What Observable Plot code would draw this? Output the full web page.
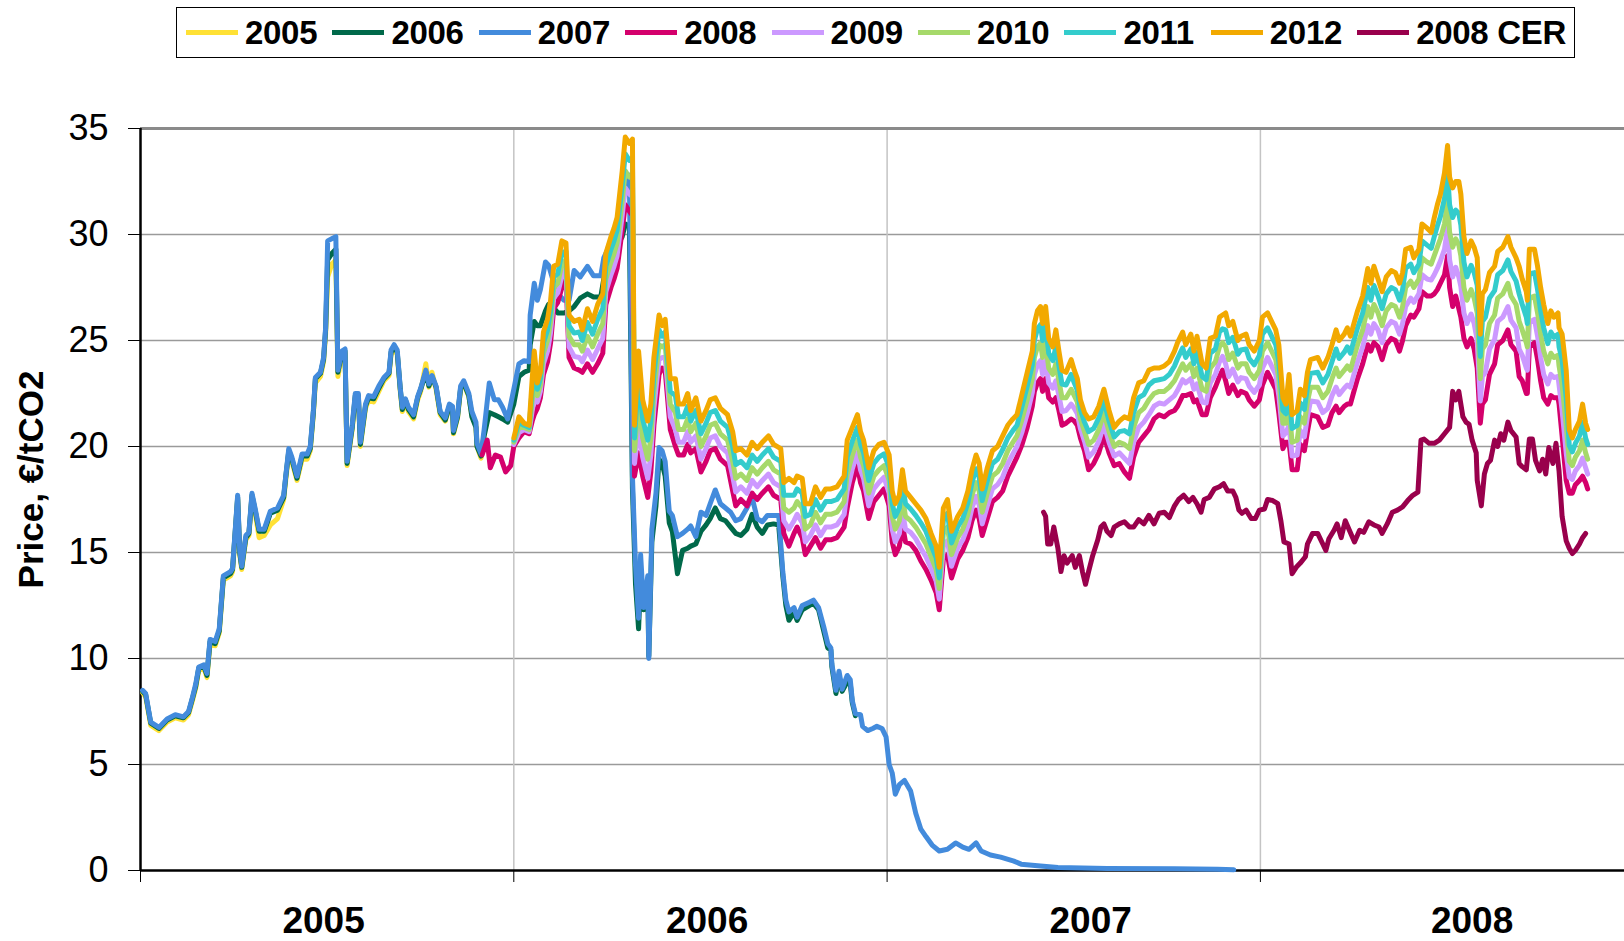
<!DOCTYPE html>
<html>
<head>
<meta charset="utf-8">
<script src="https://cdn.jsdelivr.net/npm/d3@7"></script>
<script src="https://cdn.jsdelivr.net/npm/@observablehq/plot@0.6"></script>
<style>
html, body { margin: 0; padding: 0; background: #fff; overflow: hidden; }
#wrap { position: relative; width: 1624px; height: 941px; font-family: Arial, "Liberation Sans", Helvetica, sans-serif; }
#legend { position: absolute; left: 176px; top: 7px; width: 1399px; height: 51px; border: 1.5px solid #000; box-sizing: border-box; background: #fff; }
.item { position: absolute; top: 0; height: 100%; display: flex; align-items: center; }
.sw { width: 52px; height: 5px; margin-right: 7px; }
.lab { font-weight: bold; font-size: 33px; letter-spacing: -0.3px; color: #000; }
#chart { position: absolute; left: 0; top: 70px; }
</style>
</head>
<body>
<div id="wrap">
  <div id="legend"></div>
  <div id="chart"></div>
</div>
<script>
// Dates are stored as days since 1 January 2005.
const phase1Day = [2,5,10,18,26,34,42,47,51,54,57,62,65,68,73,77,81,88,90,95,97,99,103,106,109,112,116,121,127,134,140,142,145,148,153,158,163,166,169,171,176,179,181,183,187,191,193,197,200,202,207,210,213,215,220,223,228,233,238,243,245,248,251,254,256,259,262,267,271,274,279,282,285,289,293,298,302,305,306,310,313,316,321,324,328,329,333,336,341,346,350,354,359,365,370,375,380,381,385,388,391,396,399,403,408,414,419,424,430,437,443,450,453,456,461,466,471,474,478,481,484,487,489,492,496,497,500,504,507,510,513,517,520,525,530,535,538,543,548,553,557,562,567,572,577,582,587,593,598,603,608,613,619,624,628,631,634,639,642,647,654,658,663,668,672,675,676,680,683,686,691,694,696,699,704,706,711,716,720,725,729,732,735,738,742,747,753,758,763,768,774,781,789,797,804,810,817,822,831,841,854,861,880,897,945,1011,1053,1069];

// Dec-2005 contract (covers the first dates of phase1Day)
const p2005 = [8.4,8.2,6.85,6.6,7.0,7.2,7.1,7.35,8.05,8.6,9.45,9.55,9.1,10.7,10.6,11.2,13.7,13.9,14.1,17.5,14.9,14.2,15.6,15.8,17.6,16.9,15.7,15.8,16.3,16.6,17.5,18.4,19.7,19.3,18.4,19.4,19.4,19.8,21.5,23.0,23.3,24.0,25.3,28.0,28.6,28.8,23.3,24.3,24.4,19.1,20.8,22.3,22.3,20.0,21.8,22.2,22.1,22.6,23.1,23.35,24.35,24.6,24.35,22.6,21.65,22.1,21.65,21.3,22.2,22.6,23.9,22.8,23.5,22.7,21.5,21.2,21.85,21.75,20.6,21.35,22.7,22.95,22.35,21.5,21.0,20.0,19.45,20.6];

// Dec-2006 contract (covers the first dates of phase1Day)
const p2006 = [8.45,8.3,6.95,6.7,7.1,7.3,7.2,7.45,8.15,8.7,9.55,9.65,9.2,10.8,10.7,11.3,13.8,14.0,14.2,17.6,15.0,14.3,15.7,15.9,17.7,17.0,16.0,16.0,16.85,17.0,17.6,18.55,19.8,19.4,18.5,19.55,19.55,19.9,21.6,23.2,23.45,24.1,25.5,28.8,29.1,29.3,23.5,24.45,24.5,19.2,20.9,22.4,22.4,20.1,21.9,22.3,22.25,22.75,23.2,23.45,24.45,24.7,24.45,22.7,21.75,22.2,21.75,21.4,22.3,22.7,23.5,22.85,23.3,22.8,21.6,21.25,21.9,21.85,20.65,21.4,22.75,23.0,22.4,21.4,20.9,20.0,19.55,20.5,21.6,21.5,21.4,21.3,21.15,22.0,23.3,23.5,23.6,24.8,25.9,25.7,25.7,26.4,26.7,26.6,26.3,26.3,26.4,26.6,27.0,27.2,27.05,27.05,27.9,28.4,29.3,29.5,29.9,30.5,30.4,18.0,13.5,11.4,13.8,12.3,13.3,10.1,15.5,17.2,19.4,19.2,18.6,16.4,16.0,14.0,15.1,15.2,15.3,15.4,16.0,16.3,16.6,17.1,16.6,16.5,16.2,15.9,15.8,16.1,16.8,16.2,15.9,16.3,16.35,16.3,13.9,12.5,11.8,12.2,11.8,12.3,12.5,12.6,12.3,11.3,10.5,10.4,9.6,8.35,9.2,8.45,8.9,8.8,7.9,7.3];

// Dec-2007 contract (all dates of phase1Day)
const p2007 = [8.5,8.35,7.0,6.75,7.15,7.35,7.25,7.5,8.2,8.8,9.6,9.7,9.3,10.9,10.8,11.4,13.9,14.1,14.25,17.7,15.1,14.35,15.8,15.95,17.8,17.1,16.1,16.1,16.95,17.1,17.7,18.6,19.9,19.5,18.6,19.65,19.65,20.0,21.7,23.25,23.5,24.2,25.6,29.7,29.8,29.9,23.6,24.5,24.6,19.3,21.0,22.5,22.5,20.2,22.0,22.4,22.35,22.85,23.25,23.5,24.55,24.8,24.55,22.75,21.85,22.25,21.85,21.5,22.35,22.75,23.6,22.95,23.35,22.85,21.65,21.35,22.0,21.9,20.75,21.5,22.85,23.1,22.5,21.65,21.15,20.15,19.65,20.8,23.0,22.2,22.2,21.85,21.3,22.7,23.9,24.05,24.0,26.2,27.7,26.9,27.4,28.7,28.55,27.9,27.2,26.9,26.9,28.3,28.0,28.5,28.05,28.05,28.9,29.2,29.9,30.4,31.3,32.4,32.8,18.6,14.4,11.9,14.9,12.4,13.9,10.0,16.1,17.8,19.95,19.8,19.3,16.95,16.75,15.75,15.9,16.1,16.25,15.75,16.9,16.75,17.3,17.95,17.3,17.1,16.9,16.5,16.6,17.1,17.6,16.6,16.45,16.75,16.75,16.75,14.1,12.75,12.2,12.4,11.95,12.5,12.65,12.75,12.4,11.5,10.7,10.5,9.75,8.5,9.4,8.55,9.2,9.0,8.0,7.4,7.35,6.8,6.6,6.7,6.8,6.7,6.3,5.0,4.6,3.6,4.05,4.25,3.75,2.7,1.95,1.6,1.2,0.92,1.0,1.3,1.1,1.0,1.3,0.92,0.73,0.63,0.44,0.3,0.21,0.14,0.1,0.08,0.06,0.03];

const phase2Day = [334,339,342,347,352,357,362,365,370,375,380,383,385,388,391,394,398,401,404,408,412,416,419,424,429,432,437,442,447,452,455,460,463,466,471,474,478,481,483,487,491,496,499,502,507,510,513,518,523,526,531,535,538,543,548,553,557,562,567,574,579,582,587,593,598,603,608,614,619,626,629,634,639,642,647,650,655,660,665,670,675,681,688,691,696,701,704,707,712,717,722,727,732,735,738,742,745,748,753,758,763,768,773,778,781,785,789,793,799,804,809,813,817,820,823,828,833,838,843,848,853,857,862,867,872,874,877,880,882,885,888,892,895,898,901,905,910,913,916,919,923,927,932,937,942,947,952,957,962,967,971,976,981,986,991,996,1001,1006,1011,1014,1019,1022,1027,1030,1033,1038,1042,1046,1051,1055,1058,1061,1064,1068,1073,1076,1081,1084,1089,1094,1097,1102,1107,1110,1113,1117,1120,1123,1126,1131,1134,1138,1141,1144,1151,1156,1161,1165,1169,1172,1177,1180,1183,1187,1190,1195,1200,1203,1206,1210,1214,1218,1223,1227,1231,1234,1237,1242,1245,1250,1253,1258,1262,1265,1268,1271,1275,1278,1280,1283,1286,1289,1291,1294,1297,1301,1304,1307,1310,1312,1315,1319,1324,1327,1332,1337,1340,1345,1348,1351,1355,1356,1358,1363,1366,1369,1372,1376,1379,1382,1386,1387,1390,1394,1397,1400,1403,1407,1410,1413,1415];

// Dec-2008 contract (all dates of phase2Day)
const p2008 = [19.6,20.3,19.0,19.6,19.5,18.8,19.1,
20.0,20.4,20.7,20.6,21.2,21.5,21.8,22.3,23.4,24.0,24.9,26.5,26.8,27.5,28.0,24.2,23.7,23.6,23.5,23.9,23.5,23.9,24.4,26.7,27.5,27.9,28.4,30.2,31.4,31.1,30.9,18.6,19.7,18.6,17.6,18.8,21.0,23.4,23.7,23.6,20.8,20.0,19.6,19.6,20.1,19.7,19.9,18.8,19.3,19.8,19.9,19.4,19.1,17.9,17.2,17.5,17.2,17.8,17.5,17.8,18.1,17.7,17.5,15.9,15.3,15.9,16.2,15.7,14.9,15.3,15.7,15.2,15.6,15.6,15.7,16.2,17.1,18.3,19.1,18.3,17.9,16.6,17.4,17.7,18.0,17.2,15.5,14.9,15.3,16.3,15.5,15.4,15.1,14.6,14.2,13.7,13.1,12.3,14.7,14.9,13.8,14.7,15.1,15.7,16.5,17.0,16.6,15.8,16.6,17.4,17.6,17.9,18.6,19.1,19.5,20.1,20.9,21.9,22.6,23.0,23.2,22.6,23.2,22.3,22.1,22.3,21.7,21.0,21.1,21.3,21.2,21.0,20.4,19.8,18.9,19.2,19.7,20.5,19.7,19.1,19.2,18.8,18.5,19.5,20.2,20.5,20.8,21.3,21.5,21.4,21.6,21.7,21.9,22.4,22.4,22.5,22.1,22.2,21.5,21.5,22.3,22.8,23.3,23.6,23.1,22.5,22.9,22.4,22.6,22.5,22.2,21.9,22.2,22.9,23.5,23.0,22.7,21.6,19.9,20.2,20.2,18.9,18.9,20.1,19.8,20.7,21.5,21.4,20.9,21.0,21.6,21.9,21.6,21.9,22.0,22.0,22.7,23.2,23.9,24.8,24.5,24.9,24.7,24.1,24.8,25.1,25.0,24.5,25.0,25.7,26.2,26.1,26.5,27.3,27.1,27.1,27.2,27.4,27.7,28.1,29.0,27.5,26.6,27.1,26.5,26.1,25.1,24.7,25.1,24.6,23.7,21.1,22.0,22.2,23.4,23.9,24.8,25.0,25.5,24.8,24.5,23.3,23.1,22.5,22.5,24.7,24.9,24.1,23.1,22.3,22.0,22.4,22.3,22.3,22.0,20.5,18.4,17.8,17.8,18.2,18.4,18.6,18.3,18.0];

// Dec-2009 .. Dec-2012 contracts (cover the last dates of phase2Day)
const p2009 = [20.1,20.65,20.8,20.7,21.7,22.25,22.1,22.6,23.9,24.5,25.4,27.0,27.25,28.05,28.4,24.7,24.25,24.2,24.0,24.55,24.1,24.6,25.1,27.3,28.1,28.5,29.0,30.9,32.2,31.9,31.8,19.2,20.9,19.5,18.5,19.6,21.8,24.1,24.2,24.2,21.4,20.8,20.2,20.2,20.7,20.2,20.5,19.4,19.9,20.4,20.5,20.0,19.7,18.6,17.85,18.1,17.8,18.4,18.1,18.4,18.7,18.3,18.1,16.5,16.1,16.5,16.8,16.4,15.5,15.8,16.3,15.8,16.2,16.2,16.3,16.8,17.9,18.95,19.7,18.9,18.5,17.2,18.0,18.3,18.55,17.8,16.1,15.5,15.9,16.95,16.1,15.95,15.65,15.2,14.8,14.25,13.65,12.8,15.3,15.55,14.35,15.2,15.6,16.25,17.1,17.65,17.25,16.35,17.2,18.0,18.2,18.55,19.2,19.65,20.0,20.7,21.55,22.55,23.4,23.85,24.05,23.4,24.05,23.0,22.75,23.1,22.4,21.65,21.7,22.0,21.8,21.55,20.85,20.25,19.5,19.75,20.25,21.05,20.2,19.55,19.7,19.45,19.2,20.2,20.9,21.15,21.5,21.9,22.05,22.0,22.2,22.4,22.65,23.15,23.0,23.2,22.7,22.95,22.1,22.05,23.0,23.4,24.0,24.25,23.9,23.3,23.65,23.05,23.25,23.2,22.85,22.55,22.9,23.7,24.2,23.7,23.4,22.4,20.5,20.65,21.0,19.55,19.6,20.75,20.45,21.4,22.15,22.1,21.6,21.8,22.4,22.8,22.45,22.75,22.9,22.8,23.5,24.0,24.7,25.7,25.3,25.8,25.5,24.9,25.6,25.9,25.8,25.3,25.8,26.6,27.0,26.8,27.2,28.1,27.9,27.85,28.1,28.4,28.75,29.3,30.3,28.8,28.0,28.45,28.0,27.55,26.3,25.8,26.25,25.8,25.0,22.15,23.3,23.5,24.6,25.05,25.9,26.1,26.6,25.95,25.6,24.6,24.3,23.7,23.6,25.85,26.0,25.2,24.2,23.4,22.95,23.4,23.25,23.3,22.9,21.7,19.7,18.55,18.45,18.85,19.1,19.45,19.0,18.7];

const p2010 = [20.2,20.9,20.9,20.8,22.2,23.0,22.4,22.9,24.4,25.0,25.9,27.5,27.7,28.6,28.8,25.2,24.8,24.8,24.5,25.2,24.7,25.3,25.8,27.9,28.7,29.1,29.6,31.6,33.0,32.7,32.7,19.8,22.1,20.4,19.4,20.4,22.6,24.8,24.7,24.8,22.0,21.6,20.8,20.8,21.3,20.7,21.1,20.0,20.5,21.0,21.1,20.6,20.3,19.3,18.5,18.7,18.4,19.0,18.7,19.0,19.3,18.9,18.7,17.1,16.9,17.1,17.4,17.1,16.1,16.3,16.9,16.4,16.8,16.8,16.9,17.4,18.7,19.6,20.3,19.5,19.1,17.8,18.6,18.9,19.1,18.4,16.7,16.1,16.5,17.6,16.7,16.5,16.2,15.8,15.4,14.8,14.2,13.3,15.9,16.2,14.9,15.7,16.1,16.8,17.7,18.3,17.9,16.9,17.8,18.6,18.8,19.2,19.8,20.2,20.5,21.3,22.2,23.2,24.2,24.7,24.9,24.2,24.9,23.7,23.4,23.9,23.1,22.3,22.3,22.7,22.4,22.1,21.3,20.7,20.1,20.3,20.8,21.6,20.7,20.0,20.2,20.1,19.9,20.9,21.6,21.8,22.2,22.5,22.6,22.6,22.8,23.1,23.4,23.9,23.6,23.9,23.3,23.7,22.7,22.6,23.7,24.0,24.7,24.9,24.7,24.1,24.4,23.7,23.9,23.9,23.5,23.2,23.6,24.5,24.9,24.4,24.1,23.2,21.1,21.1,21.8,20.2,20.3,21.4,21.1,22.1,22.8,22.8,22.3,22.6,23.2,23.7,23.3,23.6,23.8,23.6,24.3,24.8,25.5,26.6,26.1,26.7,26.3,25.7,26.4,26.7,26.6,26.1,26.6,27.5,27.8,27.5,27.9,28.9,28.7,28.6,29.0,29.4,29.8,30.5,31.6,30.1,29.4,29.8,29.5,29.0,27.5,26.9,27.4,27.0,26.3,23.2,24.6,24.8,25.8,26.2,27.0,27.2,27.7,27.1,26.7,25.9,25.5,24.9,24.7,27.0,27.1,26.3,25.3,24.5,23.9,24.4,24.2,24.3,23.8,22.9,21.0,19.3,19.1,19.5,19.8,20.3,19.7,19.4];

const p2011 = [20.3,21.15,21.0,20.9,22.7,23.75,22.7,23.2,24.9,25.5,26.4,28.0,28.15,29.15,29.2,25.7,25.35,25.4,25.0,25.85,25.3,26.0,26.5,28.5,29.3,29.7,30.2,32.3,33.8,33.5,33.6,20.4,23.3,21.3,20.3,21.2,23.4,25.5,25.2,25.4,22.6,22.4,21.4,21.4,21.9,21.2,21.7,20.6,21.1,21.6,21.7,21.2,20.9,20.0,19.15,19.3,19.0,19.6,19.3,19.6,19.9,19.5,19.3,17.7,17.7,17.7,18.0,17.8,16.7,16.8,17.5,17.0,17.4,17.4,17.5,18.0,19.5,20.25,20.9,20.1,19.7,18.4,19.2,19.5,19.65,19.0,17.3,16.7,17.1,18.25,17.3,17.05,16.75,16.4,16.0,15.35,14.75,13.8,16.5,16.85,15.45,16.2,16.6,17.35,18.3,18.95,18.55,17.45,18.4,19.2,19.4,19.85,20.4,20.75,21.0,21.9,22.85,23.85,25.0,25.55,25.75,25.0,25.75,24.4,24.05,24.7,23.8,22.95,22.9,23.4,23.0,22.65,21.75,21.15,20.7,20.85,21.35,22.15,21.2,20.45,20.7,20.75,20.6,21.6,22.3,22.45,22.9,23.1,23.15,23.2,23.4,23.8,24.15,24.65,24.2,24.6,23.9,24.45,23.3,23.15,24.4,24.6,25.4,25.55,25.5,24.9,25.15,24.35,24.55,24.6,24.15,23.85,24.3,25.3,25.6,25.1,24.8,24.0,21.7,21.55,22.6,20.85,21.0,22.05,21.75,22.8,23.45,23.5,23.0,23.4,24.0,24.6,24.15,24.45,24.7,24.4,25.1,25.6,26.3,27.5,26.9,27.6,27.1,26.5,27.2,27.5,27.4,26.9,27.4,28.4,28.6,28.2,28.6,29.7,29.5,29.35,29.9,30.4,30.85,31.7,32.9,31.4,30.8,31.15,31.0,30.45,28.7,28.0,28.55,28.2,27.6,24.25,25.9,26.1,27.0,27.35,28.1,28.3,28.8,28.25,27.8,27.2,26.7,26.1,25.8,28.15,28.2,27.4,26.4,25.6,24.85,25.4,25.15,25.3,24.7,24.1,22.3,20.05,19.75,20.15,20.5,21.15,20.4,20.1];

const p2012 = [20.4,21.4,21.1,21.0,23.2,24.5,23.0,23.5,25.4,26.0,26.9,28.5,28.6,29.7,29.6,26.2,25.9,26.0,25.5,26.5,25.9,26.7,27.2,29.1,29.9,30.3,30.8,33.0,34.6,34.3,34.5,21.0,24.5,22.2,21.2,22.0,24.2,26.2,25.7,26.0,23.2,23.2,22.0,22.0,22.5,21.7,22.3,21.2,21.7,22.2,22.3,21.8,21.5,20.7,19.8,19.9,19.6,20.2,19.9,20.2,20.5,20.1,19.9,18.3,18.5,18.3,18.6,18.5,17.3,17.3,18.1,17.6,18.0,18.0,18.1,18.6,20.3,20.9,21.5,20.7,20.3,19.0,19.8,20.1,20.2,19.6,17.9,17.3,17.7,18.9,17.9,17.6,17.3,17.0,16.6,15.9,15.3,14.3,17.1,17.5,16.0,16.7,17.1,17.9,18.9,19.6,19.2,18.0,19.0,19.8,20.0,20.5,21.0,21.3,21.5,22.5,23.5,24.5,25.8,26.4,26.6,25.8,26.6,25.1,24.7,25.5,24.5,23.6,23.5,24.1,23.6,23.2,22.2,21.6,21.3,21.4,21.9,22.7,21.7,20.9,21.2,21.4,21.3,22.3,23.0,23.1,23.6,23.7,23.7,23.8,24.0,24.5,24.9,25.4,24.8,25.3,24.5,25.2,23.9,23.7,25.1,25.2,26.1,26.2,26.3,25.7,25.9,25.0,25.2,25.3,24.8,24.5,25.0,26.1,26.3,25.8,25.5,24.8,22.3,22.0,23.4,21.5,21.7,22.7,22.4,23.5,24.1,24.2,23.7,24.2,24.8,25.5,25.0,25.3,25.6,25.2,25.9,26.4,27.1,28.4,27.7,28.5,27.9,27.3,28.0,28.3,28.2,27.7,28.2,29.3,29.4,28.9,29.3,30.5,30.3,30.1,30.8,31.4,31.9,32.9,34.2,32.7,32.2,32.5,32.5,31.9,29.9,29.1,29.7,29.4,28.9,25.3,27.2,27.4,28.2,28.5,29.2,29.4,29.9,29.4,28.9,28.5,27.9,27.3,26.9,29.3,29.3,28.5,27.5,26.7,25.8,26.4,26.1,26.3,25.6,25.3,23.6,20.8,20.4,20.8,21.2,22.0,21.1,20.8];

const cerDay = [883,885,887,890,893,897,900,903,906,911,914,918,921,924,927,931,936,939,942,945,949,952,957,962,967,971,976,981,986,991,996,1001,1006,1011,1015,1020,1025,1029,1033,1037,1040,1045,1050,1055,1059,1063,1068,1071,1074,1077,1081,1086,1090,1094,1099,1102,1107,1112,1115,1118,1123,1126,1130,1134,1139,1141,1146,1151,1156,1159,1162,1167,1170,1174,1178,1182,1187,1192,1196,1201,1206,1211,1214,1219,1224,1229,1234,1239,1244,1249,1252,1255,1260,1265,1270,1275,1280,1283,1286,1289,1293,1296,1299,1302,1306,1307,1311,1314,1317,1320,1324,1327,1330,1333,1337,1340,1345,1348,1351,1355,1358,1361,1364,1368,1371,1374,1377,1381,1384,1387,1390,1394,1397,1400,1403,1407,1410,1413];

const cer2008 = [16.9,16.7,15.4,15.4,16.2,15.2,14.1,14.85,14.5,14.85,14.3,14.85,14.1,13.5,14.1,14.85,15.6,16.2,16.35,16.0,15.8,16.2,16.35,16.45,16.2,16.2,16.55,16.35,16.75,16.35,16.85,16.9,16.65,17.2,17.5,17.7,17.4,17.6,17.3,16.9,17.5,17.6,18.0,18.1,18.25,17.9,17.9,17.6,17.0,16.85,17.0,16.6,16.6,17.0,17.05,17.5,17.45,17.3,16.5,15.5,15.4,14.0,14.3,14.5,14.8,15.4,15.9,15.9,15.4,15.1,15.65,16.05,16.35,15.7,16.5,16.05,15.5,16.05,15.95,16.45,16.3,16.2,15.9,16.35,16.9,17.0,17.15,17.45,17.7,17.85,20.3,20.35,20.15,20.15,20.3,20.6,20.9,22.6,22.2,22.6,21.4,21.15,21.05,20.3,19.7,18.4,17.2,18.7,19.2,19.35,20.3,20.0,20.6,20.3,21.15,20.75,20.45,19.2,19.05,18.9,20.35,20.35,19.35,18.85,19.4,18.7,19.95,19.2,20.15,18.85,16.7,15.55,15.2,14.95,15.1,15.4,15.7,15.9];

const seriesNames = ["2005","2006","2007","2008","2009","2010","2011","2012","2008 CER"];
const seriesColors = ["#FFE135","#00694A","#438BDC","#D4006C","#CC99FF","#A6D96A","#33CCCC","#F2A900","#99004C"];
const yearLabels = ["2005","2006","2007","2008"];
// where each year label sits on the time axis (as placed in the original chart)
const yearLabelAt = ["2005-06-29","2006-07-09","2007-07-19","2008-07-26"];
const yTicks = [0,5,10,15,20,25,30,35];
const yLabel = "Price, €/tCO2";

const base = Date.UTC(2005, 0, 1);
const toDate = d => new Date(base + d * 864e5);

const defs = [
  {name: "2005", days: phase1Day, values: p2005, align: "start"},
  {name: "2006", days: phase1Day, values: p2006, align: "start"},
  {name: "2007", days: phase1Day, values: p2007, align: "start"},
  {name: "2008", days: phase2Day, values: p2008, align: "end"},
  {name: "2009", days: phase2Day, values: p2009, align: "end"},
  {name: "2010", days: phase2Day, values: p2010, align: "end"},
  {name: "2011", days: phase2Day, values: p2011, align: "end"},
  {name: "2012", days: phase2Day, values: p2012, align: "end"},
  {name: "2008 CER", days: cerDay, values: cer2008, align: "start"}
];

const rows = defs.flatMap(s => {
  const off = s.align === "end" ? s.days.length - s.values.length : 0;
  return s.values.map((v, i) => ({series: s.name, date: toDate(s.days[i + off]), value: v}));
});

const yearStarts = [2005, 2006, 2007, 2008, 2009].map(y => new Date(Date.UTC(y, 0, 1)));
const yearMids = yearLabels.map((y, i) => ({label: y, date: new Date(yearLabelAt[i] + "T00:00:00Z")}));

const chart = Plot.plot({
  width: 1624,
  height: 871,
  marginLeft: 140,
  marginRight: 0,
  marginTop: 58,
  marginBottom: 71,
  style: {fontFamily: 'Arial, "Liberation Sans", Helvetica, sans-serif', background: "#fff", color: "#000", overflow: "visible"},
  x: {type: "utc", domain: [toDate(0), toDate(1451)], axis: null},
  y: {domain: [0, 35], axis: null},
  color: {domain: seriesNames, range: seriesColors},
  marks: [
    Plot.ruleY(yTicks.filter(t => t > 0 && t < 35), {stroke: "#9a9a9a", strokeWidth: 1.5}),
    Plot.ruleX(yearStarts.slice(1, 4), {y1: 0, y2: 35, stroke: "#c4c4c4", strokeWidth: 1.5}),
    Plot.ruleY([35], {stroke: "#8a8a8a", strokeWidth: 3}),
    Plot.ruleY([0], {stroke: "#000", strokeWidth: 2.5}),
    Plot.ruleX([toDate(0)], {y1: 0, y2: 35, stroke: "#000", strokeWidth: 2.5}),
    Plot.axisY({ticks: yTicks, tickSize: 12, tickPadding: 20, fontSize: 36, label: null, stroke: "#000", fill: "#000"}),
    Plot.axisX({ticks: yearStarts, tickSize: 12, tickFormat: () => "", label: null, stroke: "#000"}),
    Plot.text(yearMids, {x: "date", text: "label", frameAnchor: "bottom", dy: 51, lineAnchor: "middle", textAnchor: "middle", fontSize: 37, fontWeight: "bold", fill: "#000"}),
    Plot.text([yLabel], {text: d => d, frameAnchor: "left", textAnchor: "middle", lineAnchor: "middle", dx: -109, dy: -20, rotate: -90, fontSize: 35, fontWeight: "bold", fill: "#000"}),
    Plot.line(rows, {x: "date", y: "value", z: "series", stroke: "series", strokeWidth: 5, strokeLinejoin: "round", strokeLinecap: "round"})
  ]
});
document.getElementById("chart").appendChild(chart);

// Legend
const legend = document.getElementById("legend");
seriesNames.forEach((name, i) => {
  const item = document.createElement("div");
  item.className = "item";
  item.style.left = (9 + i * 146.4) + "px";
  const sw = document.createElement("div");
  sw.className = "sw";
  sw.style.background = seriesColors[i];
  const lab = document.createElement("span");
  lab.className = "lab";
  lab.textContent = name;
  item.appendChild(sw);
  item.appendChild(lab);
  legend.appendChild(item);
});
</script>
</body>
</html>
